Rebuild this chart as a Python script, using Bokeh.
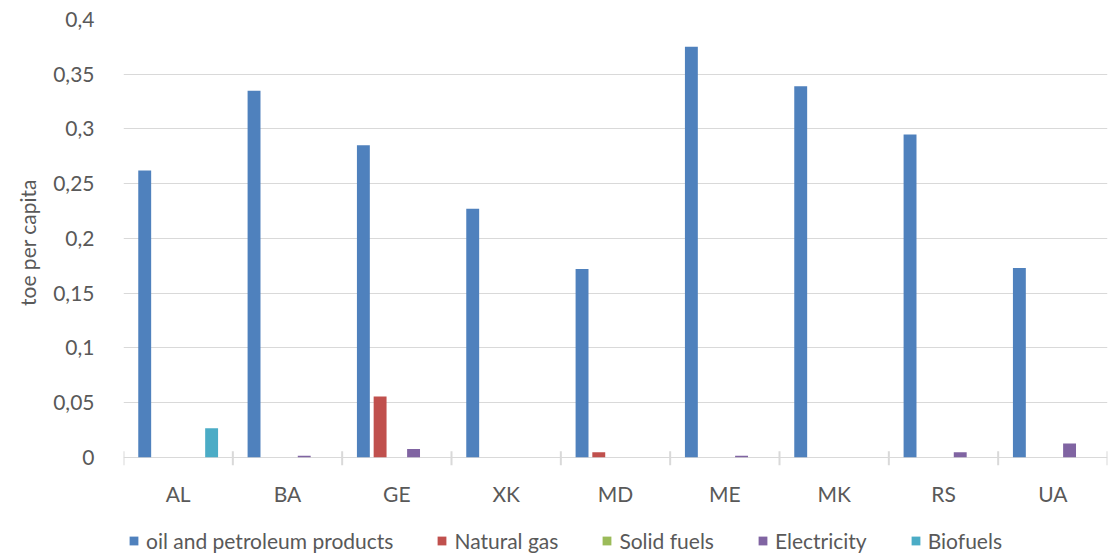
from bokeh.plotting import figure
from bokeh.layouts import column
from bokeh.models import (ColumnDataSource, FactorRange, Range1d, Legend, LegendItem,
                          SingleIntervalTicker, CustomJSTickFormatter)
from bokeh.transform import dodge
from bokeh.embed import file_html
from bokeh.resources import INLINE

countries = ["AL", "BA", "GE", "XK", "MD", "ME", "MK", "RS", "UA"]
oil = [0.262, 0.335, 0.285, 0.227, 0.172, 0.375, 0.339, 0.295, 0.173]
gas = [0.0, 0.0, 0.0555, 0.0, 0.0045, 0.0, 0.0, 0.0, 0.0]
solid = [0.0, 0.0, 0.0, 0.0, 0.0, 0.0, 0.0, 0.0, 0.0]
electricity = [0.0, 0.0015, 0.0075, 0.0, 0.0, 0.0015, 0.0, 0.0045, 0.0125]
biofuels = [0.0265, 0.0, 0.0, 0.0, 0.0, 0.0, 0.0, 0.0, 0.0]

series_names = ["oil and petroleum products", "Natural gas", "Solid fuels", "Electricity", "Biofuels"]
series_keys = ["oil", "gas", "solid", "electricity", "biofuels"]
colors = ["#4F81BD", "#C0504D", "#9BBB59", "#8064A2", "#4BACC6"]
offsets = [-0.306, -0.153, 0.0, 0.153, 0.306]

FONT = "Lato"
TXT = "#595959"
FS = "21px"

source = ColumnDataSource(dict(cat=countries, oil=oil, gas=gas, solid=solid,
                               electricity=electricity, biofuels=biofuels))

p = figure(width=1108, height=525, output_backend="svg", toolbar_location=None,
           x_range=FactorRange(*countries, range_padding=0),
           y_range=Range1d(-0.0075, 0.4))
p.min_border_left = 123
p.min_border_right = 1
p.min_border_top = 19
p.min_border_bottom = 60
p.outline_line_color = None

# bars
for key, col, off in zip(series_keys, colors, offsets):
    p.vbar(x=dodge("cat", off, range=p.x_range), top=key, width=0.118, source=source,
           fill_color=col, line_color=None)

# category separators on the baseline
p.segment(x0=dodge("cat", -0.5, range=p.x_range), x1=dodge("cat", -0.5, range=p.x_range),
          y0=0.0055, y1=-0.0075, source=source, line_color="#d9d9d9", line_width=2)
last = ColumnDataSource(dict(cat=countries[-1:]))
p.segment(x0=dodge("cat", 0.5, range=p.x_range), x1=dodge("cat", 0.5, range=p.x_range),
          y0=0.0055, y1=-0.0075, source=last, line_color="#d9d9d9", line_width=2)

# y axis
p.yaxis.ticker = SingleIntervalTicker(interval=0.05)
p.yaxis.formatter = CustomJSTickFormatter(
    code="return (Math.round(tick*100)/100).toString().replace('.', ',');")
p.yaxis.axis_line_color = None
p.yaxis.major_tick_line_color = None
p.yaxis.minor_tick_line_color = None
p.yaxis.major_label_standoff = 23
p.yaxis.major_label_text_font = FONT
p.yaxis.major_label_text_font_size = FS
p.yaxis.major_label_text_color = TXT
p.yaxis.axis_label = "toe per capita"
p.yaxis.axis_label_text_font = FONT
p.yaxis.axis_label_text_font_size = FS
p.yaxis.axis_label_text_font_style = "normal"
p.yaxis.axis_label_text_color = TXT
p.yaxis.axis_label_standoff = 10

# x axis
p.xaxis.axis_line_color = None
p.xaxis.major_tick_line_color = None
p.xaxis.minor_tick_line_color = None
p.xaxis.major_label_standoff = 9
p.xaxis.major_label_text_font = FONT
p.xaxis.major_label_text_font_size = FS
p.xaxis.major_label_text_color = TXT

p.xgrid.grid_line_color = None
p.ygrid.grid_line_color = "#d9d9d9"
p.ygrid.grid_line_width = 1

# legend strip below the chart (its frame is aligned with the chart's frame);
# the legend's renderers draw the same series outside this strip's visible range
q = figure(width=1108, height=30, output_backend="svg", toolbar_location=None,
           x_range=p.x_range, y_range=Range1d(10, 11))
q.axis.visible = False
q.grid.visible = False
q.outline_line_color = None
q.min_border = 0
items = []
for key, name, col, off in zip(series_keys, series_names, colors, offsets):
    r = q.vbar(x=dodge("cat", off, range=q.x_range), top=key, width=0.118, source=source,
               fill_color=col, line_color=None)
    items.append(LegendItem(label=name, renderers=[r]))
legend = Legend(items=items, orientation="horizontal", location=(5, 2),
                label_text_font=FONT, label_text_font_size=FS, label_text_color=TXT,
                glyph_width=11, glyph_height=11, label_standoff=7, spacing=43,
                padding=0, margin=0, border_line_color=None, background_fill_alpha=0,
                label_height=20)
q.add_layout(legend, "center")

layout = column(p, q, spacing=0)
open("out.html", "w").write(file_html(layout, INLINE))
